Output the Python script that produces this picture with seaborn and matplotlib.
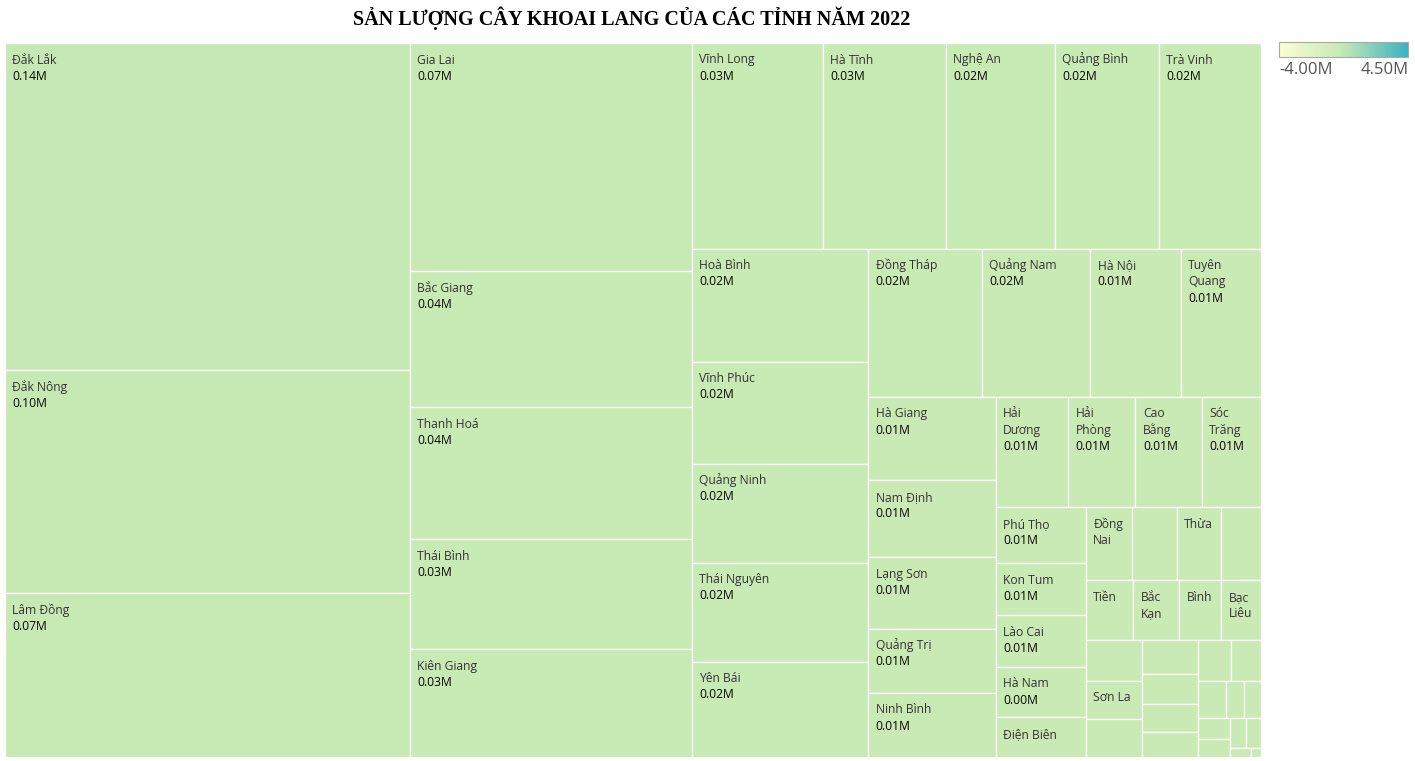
"""
Treemap: sweet potato output by province, Vietnam 2022
Squarified layout (golden-ratio target, same rule as d3 / Tableau)
"""

import matplotlib
matplotlib.use('Agg')
import matplotlib.pyplot as plt
from matplotlib.patches import Rectangle
from matplotlib.colors import LinearSegmentedColormap, Normalize
from matplotlib.cm import ScalarMappable
import pandas as pd
import seaborn as sns

sns.set_theme(style='white')
plt.rcParams['font.family'] = ['Open Sans', 'DejaVu Sans']

# ============================================================================
# DATA (tonnes)
# ============================================================================
PROVINCES = [
    'Đắk Lắk', 'Đắk Nông', 'Lâm Đồng', 'Gia Lai', 'Bắc Giang', 'Thanh Hoá',
    'Thái Bình', 'Kiên Giang', 'Vĩnh Long', 'Hà Tĩnh', 'Nghệ An', 'Quảng Bình',
    'Trà Vinh', 'Hoà Bình', 'Vĩnh Phúc', 'Quảng Ninh', 'Thái Nguyên', 'Yên Bái',
    'Đồng Tháp', 'Quảng Nam', 'Hà Nội', 'Tuyên Quang', 'Hà Giang', 'Nam Định',
    'Lạng Sơn', 'Quảng Trị', 'Ninh Bình', 'Hải Dương', 'Hải Phòng', 'Cao Bằng',
    'Sóc Trăng', 'Phú Thọ', 'Kon Tum', 'Lào Cai', 'Hà Nam', 'Điện Biên',
    'Đồng Nai', 'Quảng Ngãi', 'Thừa Thiên Huế', 'Bình Thuận', 'Tiền Giang',
    'Bắc Kạn', 'Bình Định', 'Bạc Liêu', 'Lai Châu', 'Sơn La', 'Phú Yên',
    'Bắc Ninh', 'Hưng Yên', 'Khánh Hoà', 'Long An', 'Bến Tre', 'An Giang',
    'Hậu Giang', 'Cần Thơ', 'Cà Mau', 'Ninh Thuận', 'Bình Phước', 'Tây Ninh',
    'Bà Rịa - Vũng Tàu', 'TP. Hồ Chí Minh', 'Bình Dương',
]
OUTPUT_TONNES = [
    143030, 97540, 71730, 69440, 41420, 40200,
    33500, 32890, 29150, 27370, 24250, 23140,
    22690, 21600, 19500, 18930, 18920, 18200,
    18150, 17380, 14480, 12870, 11470, 10640,
    9820, 8850, 8840, 8630, 8030, 7910,
    7070, 5420, 5080, 5020, 4880, 3875,
    3600, 3550, 3520, 3120, 3080,
    2950, 2760, 2560, 2450, 2330, 2265,
    2060, 1865, 1680, 1555, 1420, 1340,
    1110, 740, 700, 690, 620, 505,
    495, 205, 100,
]

# how Tableau fitted the labels into the narrow cells
WRAPPED = {
    'Tuyên Quang': 'Tuyên\nQuang', 'Hải Dương': 'Hải\nDương',
    'Hải Phòng': 'Hải\nPhòng', 'Cao Bằng': 'Cao\nBằng', 'Sóc Trăng': 'Sóc\nTrăng',
    'Đồng Nai': 'Đồng\nNai', 'Thừa Thiên Huế': 'Thừa', 'Tiền Giang': 'Tiền',
    'Bắc Kạn': 'Bắc\nKạn', 'Bình Định': 'Bình', 'Bạc Liêu': 'Bạc\nLiêu',
}
NAME_ONLY = {'Điện Biên', 'Đồng Nai', 'Thừa Thiên Huế', 'Tiền Giang',
             'Bắc Kạn', 'Bình Định', 'Bạc Liêu', 'Sơn La'}
HIDDEN = {'Quảng Ngãi', 'Bình Thuận', 'Lai Châu', 'Phú Yên', 'Bắc Ninh',
          'Hưng Yên', 'Khánh Hoà', 'Long An', 'Bến Tre', 'An Giang',
          'Hậu Giang', 'Cần Thơ', 'Cà Mau', 'Ninh Thuận', 'Bình Phước',
          'Tây Ninh', 'Bà Rịa - Vũng Tàu', 'TP. Hồ Chí Minh', 'Bình Dương'}

COLOR_MIN, COLOR_MAX = -4.0e6, 4.5e6
TITLE = 'SẢN LƯỢNG CÂY KHOAI LANG CỦA CÁC TỈNH NĂM 2022'

# ============================================================================
# LAYOUT
# ============================================================================
def squarify(values, x0, y0, x1, y1, ratio=(1 + 5 ** 0.5) / 2):
    """Squarified treemap, rows kept while the worst ratio does not grow"""
    rects = []
    n = len(values)
    value = float(sum(values))
    i0 = 0
    while i0 < n:
        dx, dy = x1 - x0, y1 - y0
        s = values[i0]
        vmin = vmax = s
        alpha = max(dy / dx, dx / dy) / (value * ratio)
        beta = s * s * alpha
        best = max(vmax / beta, beta / vmin)
        i1 = i0 + 1
        while i1 < n:
            v = values[i1]
            s_new = s + v
            beta = s_new * s_new * alpha
            r = max(max(vmax, v) / beta, beta / min(vmin, v))
            if r > best:
                break
            best, s = r, s_new
            vmin, vmax = min(vmin, v), max(vmax, v)
            i1 += 1
        row = values[i0:i1]
        if dx < dy:
            # row across the top
            y_end = y0 + dy * s / value
            x = x0
            for v in row:
                w = dx * v / s
                rects.append((x, y0, w, y_end - y0))
                x += w
            y0 = y_end
        else:
            # column down the left
            x_end = x0 + dx * s / value
            y = y0
            for v in row:
                h = dy * v / s
                rects.append((x0, y, x_end - x0, h))
                y += h
            x0 = x_end
        value -= s
        i0 = i1
    return rects


df = pd.DataFrame({'province': PROVINCES, 'output': OUTPUT_TONNES})
df = df.sort_values('output', ascending=False, kind='stable').reset_index(drop=True)

W, H = 1256, 714
df[['x', 'y', 'w', 'h']] = squarify(df['output'].astype(float).tolist(), 0, 0, W, H)

cmap = LinearSegmentedColormap.from_list(
    'yl_gn_teal', [(0.0, '#fcfdd3'), (0.47, '#c9eab4'), (1.0, '#3ab3c3')])
norm = Normalize(COLOR_MIN, COLOR_MAX)

# ============================================================================
# PLOT
# ============================================================================
fig = plt.figure(figsize=(14.15, 7.61), dpi=100)
ax = fig.add_axes([5 / 1415, 4 / 761, W / 1415, H / 761])
ax.set_xlim(0, W)
ax.set_ylim(H, 0)
ax.set_axis_off()

for _, row in df.iterrows():
    ax.add_patch(Rectangle((row['x'], row['y']), row['w'], row['h'],
                           facecolor=cmap(norm(row['output'])),
                           edgecolor='white', linewidth=0.9))
    name = row['province']
    if name in HIDDEN:
        continue
    lines = WRAPPED.get(name, name).split('\n')
    for i, line in enumerate(lines):
        ax.text(row['x'] + 7.5, row['y'] + 20.5 + i * 16.2, line,
                fontsize=8.7, color='#333333', va='baseline', ha='left')
    if name not in NAME_ONLY:
        ax.text(row['x'] + 7.5, row['y'] + 20.5 + len(lines) * 16.2,
                f"{row['output'] / 1e6:.2f}M",
                fontsize=8.7, color='#050505', va='baseline', ha='left')

fig.text(632 / 1415, 1 - 18 / 761, TITLE, ha='center', va='center',
         fontsize=14.5, fontweight='bold', color='black',
         family=['Liberation Serif', 'DejaVu Serif'])

# colour legend
cax = fig.add_axes([1279 / 1415, 1 - 57 / 761, 129 / 1415, 15 / 761])
sm = ScalarMappable(norm=norm, cmap=cmap)
cb = fig.colorbar(sm, cax=cax, orientation='horizontal')
cb.set_ticks([])
cb.outline.set_edgecolor('#a8a8a8')
cb.outline.set_linewidth(0.8)
fig.text(1279 / 1415, 1 - 69.5 / 761, f'{COLOR_MIN / 1e6:.2f}M', ha='left', va='center',
         fontsize=12, color='#555555')
fig.text(1409 / 1415, 1 - 69.5 / 761, f'{COLOR_MAX / 1e6:.2f}M', ha='right', va='center',
         fontsize=12, color='#555555')

fig.savefig('out.png', dpi=100, facecolor='white')
